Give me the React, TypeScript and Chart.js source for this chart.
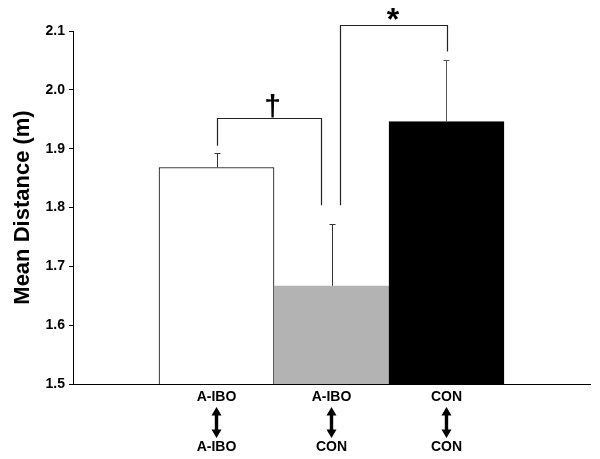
import React, { useEffect, useRef } from "react";
import { Chart, registerables } from "chart.js";

Chart.register(...registerables);

const categories = ["A-IBO|A-IBO", "A-IBO|CON", "CON|CON"];
const topLabels = ["A-IBO", "A-IBO", "CON"];
const bottomLabels = ["A-IBO", "CON", "CON"];
const means = [1.868, 1.667, 1.946];
const errorTops = [1.893, 1.772, 2.051];
const barColors = ["#ffffff", "#b3b3b3", "#000000"];
const barBorders = ["#000000", "#b3b3b3", "#000000"];
const yTicks = [1.5, 1.6, 1.7, 1.8, 1.9, 2.0, 2.1];

// significance brackets (x in category units, y in data units)
const bracketX1 = [0, 1.074];
const bracketX2 = [0.909, 2.002];
const bracketTop = [1.952, 2.111];
const bracketLeftBottom = [1.905, 1.804];
const bracketRightBottom = [1.804, 2.065];
const bracketSymbols = ["\u2020", "*"];

const FONT = "'Liberation Sans', Arial, Helvetica, sans-serif";

const overlayPlugin = {
  id: "overlay",
  afterDatasetsDraw(chart: any) {
    const ctx = chart.ctx;
    const xs = chart.scales.x;
    const ys = chart.scales.y;
    const meta = chart.getDatasetMeta(0);
    ctx.save();
    // error bars
    ctx.lineWidth = 1;
    meta.data.forEach((bar: any, i: number) => {
      const x = Math.round(bar.x) + 0.5;
      const yb = bar.y;
      const yt = Math.round(ys.getPixelForValue(errorTops[i])) + 0.5;
      ctx.strokeStyle = i === 2 ? "#555" : "#333";
      ctx.beginPath();
      ctx.moveTo(x, yb);
      ctx.lineTo(x, yt);
      ctx.moveTo(x - 3, yt);
      ctx.lineTo(x + 3, yt);
      ctx.stroke();
    });
    // brackets
    ctx.strokeStyle = "#222";
    ctx.lineWidth = 1.2;
    bracketX1.forEach((bx1, i) => {
      const x1 = Math.round(xs.getPixelForValue(bx1)) + 0.5;
      const x2 = Math.round(xs.getPixelForValue(bracketX2[i])) + 0.5;
      const yt = Math.round(ys.getPixelForValue(bracketTop[i])) + 0.5;
      const yl = ys.getPixelForValue(bracketLeftBottom[i]);
      const yr = ys.getPixelForValue(bracketRightBottom[i]);
      ctx.beginPath();
      ctx.moveTo(x1, yl);
      ctx.lineTo(x1, yt);
      ctx.lineTo(x2, yt);
      ctx.lineTo(x2, yr);
      ctx.stroke();
      ctx.fillStyle = "#000";
      ctx.textAlign = "center";
      const xm = (x1 + x2) / 2;
      if (bracketSymbols[i] === "*") {
        ctx.font = `bold 32px ${FONT}`;
        ctx.textBaseline = "middle";
        ctx.fillText(bracketSymbols[i], xm - 1, yt - 4);
      } else {
        ctx.font = `bold 30px ${FONT}`;
        ctx.textBaseline = "alphabetic";
        ctx.fillText(bracketSymbols[i], xm + 3, yt - 3);
      }
    });
    // double-headed arrows under x labels
    ctx.fillStyle = "#000";
    const bottom = chart.chartArea.bottom;
    meta.data.forEach((bar: any) => {
      const x = bar.x;
      const y1 = bottom + 23;
      const y2 = bottom + 54;
      const hw = 5;
      const hh = 8.5;
      const sw = 1.7;
      ctx.beginPath();
      ctx.moveTo(x, y1);
      ctx.lineTo(x + hw, y1 + hh);
      ctx.lineTo(x + sw, y1 + hh);
      ctx.lineTo(x + sw, y2 - hh);
      ctx.lineTo(x + hw, y2 - hh);
      ctx.lineTo(x, y2);
      ctx.lineTo(x - hw, y2 - hh);
      ctx.lineTo(x - sw, y2 - hh);
      ctx.lineTo(x - sw, y1 + hh);
      ctx.lineTo(x - hw, y1 + hh);
      ctx.closePath();
      ctx.fill();
    });
    ctx.restore();
  },
};

export default function App() {
  const ref = useRef<HTMLCanvasElement | null>(null);
  useEffect(() => {
    if (!ref.current) return;
    const chart = new Chart(ref.current, {
      type: "bar",
      data: {
        datasets: [
          {
            data: means.map((v, i) => ({ x: i, y: v })),
            backgroundColor: barColors,
            borderColor: barBorders,
            borderWidth: 1,
            borderSkipped: "bottom",
            barPercentage: 1,
            categoryPercentage: 1,
          },
        ],
      },
      options: {
        animation: false,
        responsive: true,
        maintainAspectRatio: false,
        layout: { padding: { top: 31, right: 10, left: 0, bottom: 0 } },
        plugins: { legend: { display: false }, tooltip: { enabled: false } },
        scales: {
          x: {
            type: "linear",
            offset: false,
            min: -1.248,
            max: 3.248,
            grid: { display: false, drawTicks: false, offset: false },
            border: { display: true, color: "#000", width: 1 },
            afterBuildTicks: (s: any) => {
              s.ticks = categories.map((_, i) => ({ value: i }));
            },
            afterFit: (s: any) => {
              s.height = 75;
            },
            ticks: {
              autoSkip: false,
              maxRotation: 0,
              padding: 5,
              color: "#000",
              font: { family: FONT, size: 14, weight: "bold", lineHeight: 1.19 },
              callback: (v: any) => {
                const i = Math.round(Number(v));
                return [topLabels[i], "", "", bottomLabels[i]];
              },
            },
          },
          y: {
            min: 1.5,
            max: 2.1,
            afterBuildTicks: (s: any) => {
              s.ticks = yTicks.map((v) => ({ value: v }));
            },
            afterFit: (s: any) => {
              s.width = 73;
            },
            grid: {
              display: true,
              drawOnChartArea: false,
              drawTicks: true,
              tickLength: 4,
              color: "#000",
            },
            border: { display: true, color: "#000", width: 1 },
            ticks: {
              padding: 4,
              color: "#000",
              font: { family: FONT, size: 14, weight: "bold" },
              callback: (v: any) => Number(v).toFixed(1),
            },
            title: {
              display: true,
              text: "Mean Distance (m)",
              color: "#000",
              font: { family: FONT, size: 22, weight: "bold" },
              padding: { top: 10, bottom: 0 },
            },
          },
        },
      },
      plugins: [overlayPlugin],
    });
    return () => chart.destroy();
  }, []);
  return (
    <div style={{ position: "fixed", left: 0, top: 0, width: 600, height: 459, background: "#fff" }}>
      <canvas ref={ref} />
    </div>
  );
}
